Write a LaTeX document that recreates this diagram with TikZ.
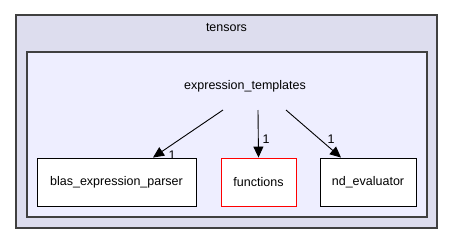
\documentclass[tikz,border=0pt]{standalone}
\usepackage{fontspec}
\setmainfont{Liberation Sans}
\usepackage{tikz}
\usetikzlibrary{arrows.meta}
\definecolor{dir@outer}{RGB}{221, 221, 238}
\definecolor{dir@inner}{RGB}{238, 238, 255}
\definecolor{dir@edge}{RGB}{64, 64, 64}
\definecolor{dir@red}{RGB}{255, 0, 0}

\begin{document}
\begin{tikzpicture}[x=1pt, y=-1pt,
  group/.style = {rectangle, draw=dir@edge, line width=1.1pt, inner sep=0pt},
  leaf/.style  = {rectangle, draw=black, fill=white, line width=0.9pt,
                  minimum height=48pt, inner sep=0pt,
                  font=\fontsize{12.5}{14}\selectfont},
  dep/.style   = {-{Triangle[length=11pt, width=10pt]}, black, line width=0.9pt},
  num/.style   = {font=\fontsize{12.5}{14}\selectfont, inner sep=1pt},
]
  \useasboundingbox (0,0) rectangle (453,244);

  \node[group, fill=dir@outer, minimum width=421pt, minimum height=213pt] (tensors) at (226.5,121.5) {};
  \node[font=\fontsize{12.5}{14}\selectfont] (tlbl) at (226.5,28) {tensors};
  \node[group, fill=dir@inner, minimum width=400pt, minimum height=165pt] (inner) at (227,134.5) {};

  \node[font=\fontsize{12.5}{14}\selectfont] (et) at (245,86) {expression\_templates};
  \coordinate (et1) at (223,110);
  \coordinate (et2) at (258,110);
  \coordinate (et3) at (286,110);

  \node[leaf, minimum width=159pt] (blas) at (116.5,182) {blas\_expression\_parser};
  \node[leaf, minimum width=75pt, draw=dir@red] (fun) at (258.5,182) {functions};
  \node[leaf, minimum width=96pt] (nd) at (368,182) {nd\_evaluator};

  \draw[dep] (et1) -- ([xshift=36.5pt]blas.north);
  \node[num] at (172,155) {1};
  \draw[dep] (et2) -- (fun.north);
  \node[num] at (266,139) {1};
  \draw[dep] (et3) -- ([xshift=-27pt]nd.north);
  \node[num] at (331,139) {1};
\end{tikzpicture}
\end{document}
